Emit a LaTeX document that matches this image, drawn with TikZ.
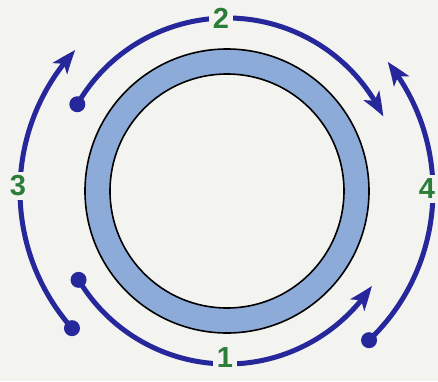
\documentclass[tikz,border=0pt]{standalone}
\usepackage{fontspec}
\setsansfont{Liberation Sans}
\usetikzlibrary{arrows.meta,bending}
\definecolor{flow}{HTML}{25279A}
\definecolor{tag}{HTML}{2C7C3A}
\definecolor{wall}{HTML}{8DABD8}
\definecolor{paper}{HTML}{F3F3F0}
\tikzset{sc/.style={x=1pt,y=1pt,line width=1pt},
  flowarc/.style={flow,line width=5pt,-{Stealth[length=24pt,width=18pt,inset=6pt,bend]}},
  tagnum/.style={tag,fill=paper,inner sep=4pt,font=\sffamily\bfseries\fontsize{29}{29}\selectfont}}

\begin{document}
\begin{tikzpicture}[sc]
  \fill[paper] (-227,-190) rectangle (211,191);
  \useasboundingbox (-227,-190) rectangle (211,191);
  \coordinate (c) at (0,0);
  \fill[wall,even odd rule] (c) circle(142) (c) circle(117);
  \draw[line width=1.6pt] (c) circle(142) (c) circle(117);
  % start/end angle, radius, name
  \foreach \a/\b/\r/\n in {210.9/326.8/173/s1, 149.9/25.5/173/s2, 221.5/137.1/207/s3, -46.4/38.8/206/s4}{
    \coordinate (\n) at (\a:\r);
    \draw[flowarc] (\n) arc[start angle=\a,end angle=\b,radius=\r];
    \fill[flow] (\n) circle(8);
  }
  \node[tagnum] (t1) at (-2,-167) {1};
  \node[tagnum] (t2) at (-6,173) {2};
  \node[tagnum] (t3) at (-209,5) {3};
  \node[tagnum,inner xsep=2pt] (t4) at (200,2) {4};
\end{tikzpicture}
\end{document}
